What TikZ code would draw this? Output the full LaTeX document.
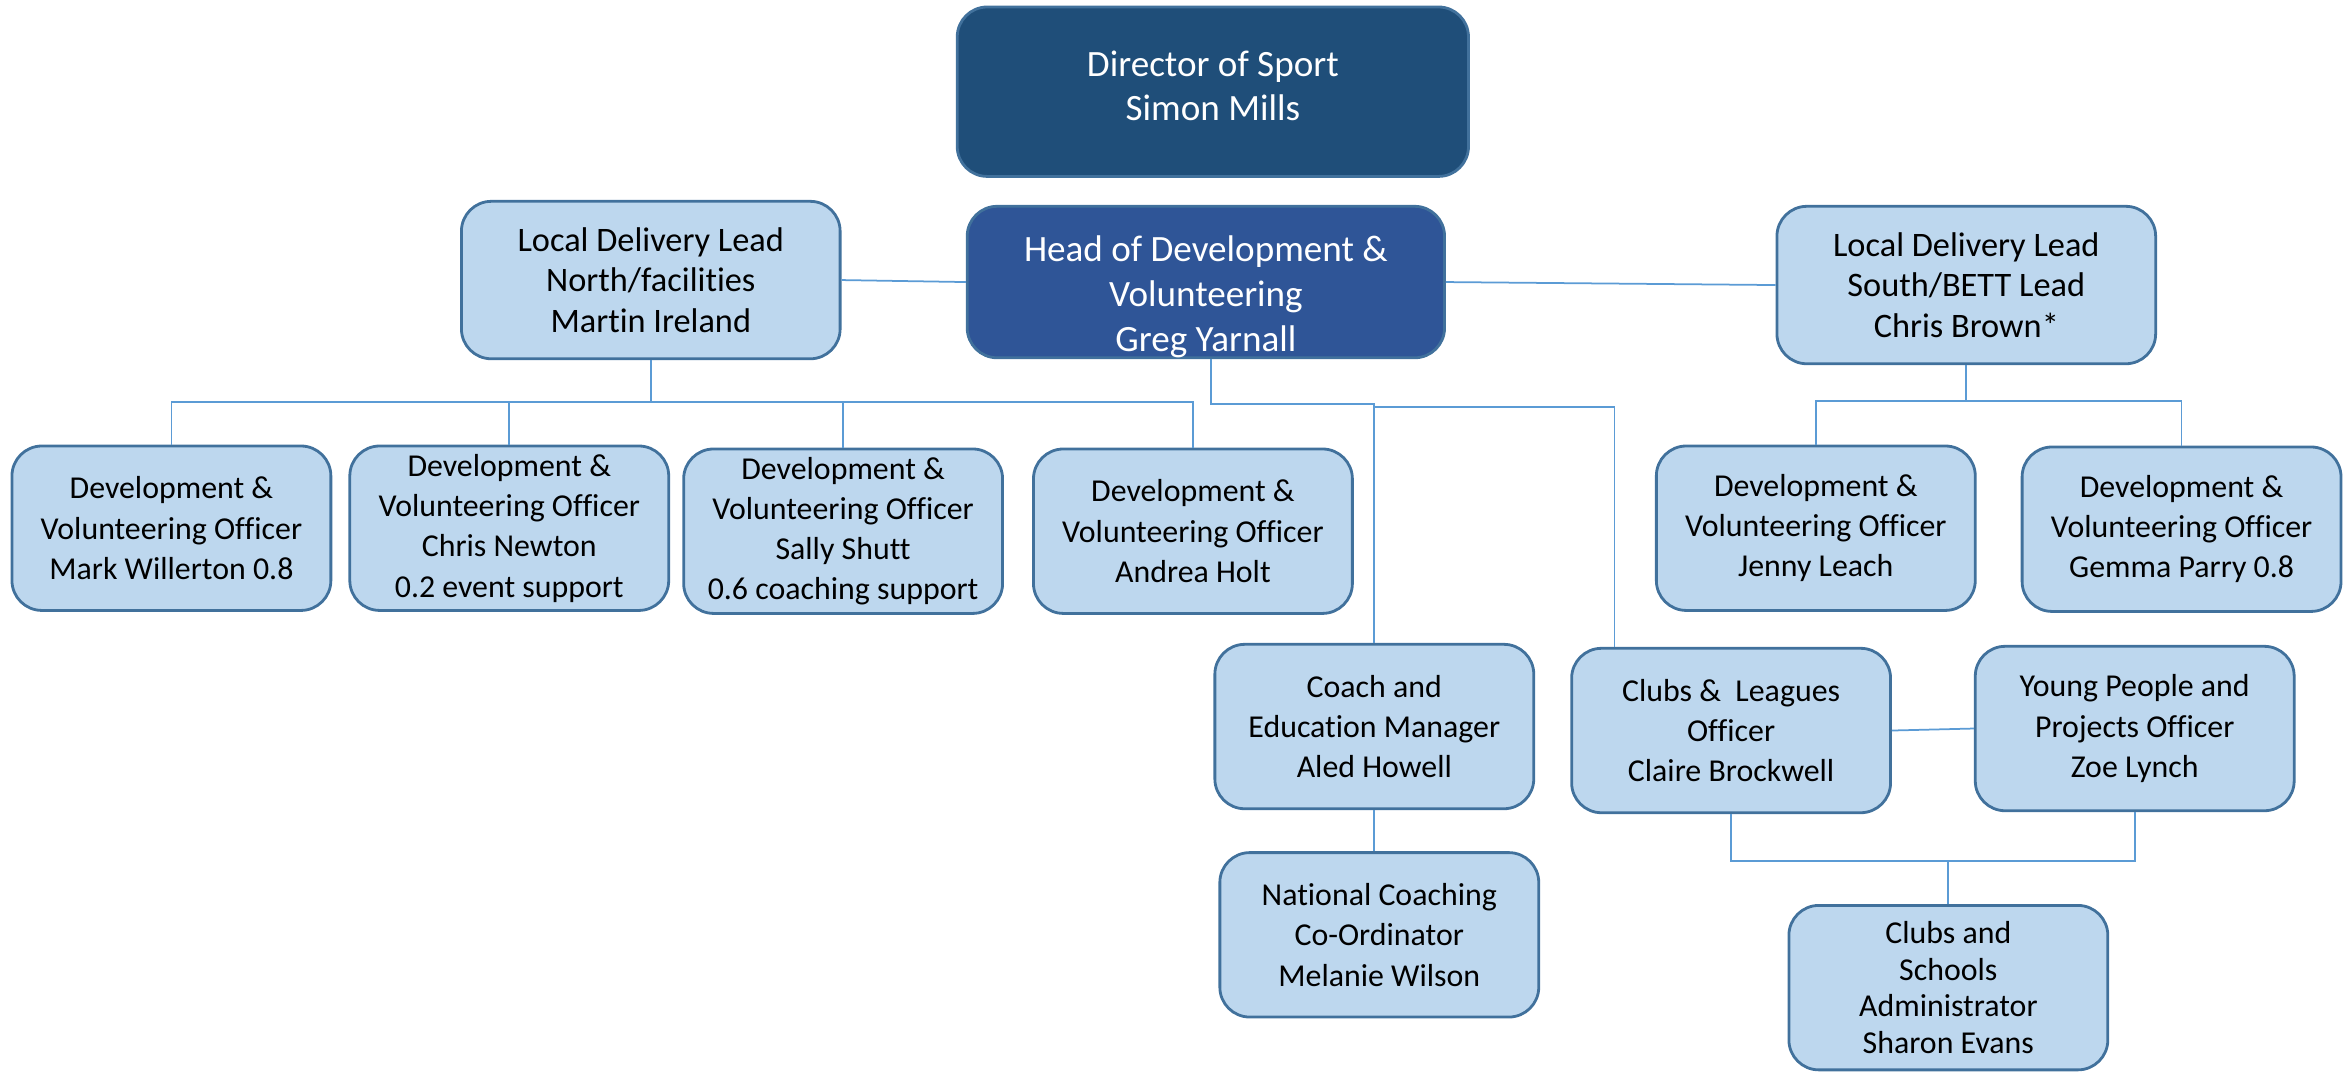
\documentclass[tikz,border=0pt]{standalone}
\usepackage{fontspec}
\setmainfont[Ligatures=NoCommon]{Carlito}
\usepackage{xcolor}
\usepackage{tikz}
\usetikzlibrary{positioning, calc}

\definecolor{dirblue}{RGB}{31,78,121}
\definecolor{headblue}{RGB}{47,85,151}
\definecolor{paleblue}{RGB}{189,215,238}
\definecolor{rimblue}{RGB}{65,113,156}
\definecolor{linkblue}{RGB}{91,155,213}

\begin{document}
\begin{tikzpicture}[
    post/.style={draw=rimblue, line width=0.8pt, rounded corners=0.3cm, fill=paleblue, align=center,
        minimum width=3.2cm, minimum height=1.65cm, inner sep=0pt, font=\fontsize{9.1}{11.5}\selectfont},
    lead/.style={post, minimum width=3.8cm, minimum height=1.58cm, font=\fontsize{9.8}{11.5}\selectfont},
    top/.style={post, draw=rimblue, text=white, font=\fontsize{10.6}{12.8}\selectfont},
    link/.style={draw=linkblue, line width=0.5pt}
]
    \useasboundingbox (0,0) rectangle (23.52,-10.755);

    % top of the tree
    \node[top, fill=dirblue, minimum width=5.13cm, minimum height=1.7cm] (dir) at (12.17,-0.92) {Director of Sport\\Simon Mills\rule[-0.12cm]{0pt}{0.1pt}};
    \node[top, fill=headblue, minimum width=4.79cm, minimum height=1.52cm] (head) at (12.10,-2.83) {\rule{0pt}{0.55cm}Head of Development \&\\Volunteering\\Greg Yarnall};
    \node[lead] (north) at (6.53,-2.81) {Local Delivery Lead\\North/facilities\\Martin Ireland};
    \node[lead] (south) at (19.73,-2.86) {Local Delivery Lead\\South/BETT Lead\\Chris Brown*};

    % officers
    \node[post] (mark) at (1.72,-5.30) {Development \&\\Volunteering Officer\\Mark Willerton 0.8};
    \node[post] (newton) at (5.11,-5.30) {Development \&\\Volunteering Officer\\Chris Newton\\0.2 event support};
    \node[post] (shutt) at (8.46,-5.33) {Development \&\\Volunteering Officer\\Sally Shutt\\0.6 coaching support};
    \node[post] (holt) at (11.97,-5.33) {Development \&\\Volunteering Officer\\Andrea Holt};
    \node[post] (leach) at (18.22,-5.30) {Development \&\\Volunteering Officer\\Jenny Leach};
    \node[post] (parry) at (21.89,-5.31) {Development \&\\Volunteering Officer\\Gemma Parry 0.8};

    % lower posts
    \node[post] (howell) at (13.79,-7.29) {Coach and\\Education Manager\\Aled Howell};
    \node[post] (brockwell) at (17.37,-7.33) {Clubs \&~ Leagues\\Officer\\Claire Brockwell};
    \node[post] (lynch) at (21.42,-7.31) {Young People and\\Projects Officer\\Zoe Lynch};
    \node[post] (wilson) at (13.84,-9.38) {National Coaching\\Co-Ordinator\\Melanie Wilson};
    \node[post, font=\fontsize{9.1}{10.5}\selectfont] (evans) at (19.55,-9.91) {Clubs and\\Schools\\Administrator\\Sharon Evans};

    % bus points
    \coordinate (nbus) at (6.53,-4.03);
    \coordinate (sbus) at (19.73,-4.02);
    \coordinate (hbus) at (12.15,-4.05);
    \coordinate (cdrop) at (16.2,-4.08);
    \coordinate (cbus) at (19.55,-8.64);

    % connectors
    \draw[link] (north.east) -- (head.west);
    \draw[link] (head.east) -- (south.west);
    \draw[link] (north.south) -- (nbus);
    \draw[link] (mark.north) |- (nbus) -| (holt.north);
    \foreach \n in {newton, shutt}
        \draw[link] (\n.north) -- (\n.north |- nbus);
    \draw[link] (south.south) -- (sbus);
    \draw[link] (leach.north) |- (sbus) -| (parry.north);
    \draw[link] (head.south -| hbus) |- (howell.north |- hbus) -- (howell.north);
    \draw[link] (howell.north |- cdrop) -- (cdrop) -- (cdrop |- brockwell.north);
    \draw[link] (howell.south) -- (howell.south |- wilson.north);
    \draw[link] (brockwell.east) -- (lynch.west);
    \draw[link] (brockwell.south) |- (cbus) -| (lynch.south);
    \draw[link] (cbus) -- (evans.north);
\end{tikzpicture}
\end{document}
